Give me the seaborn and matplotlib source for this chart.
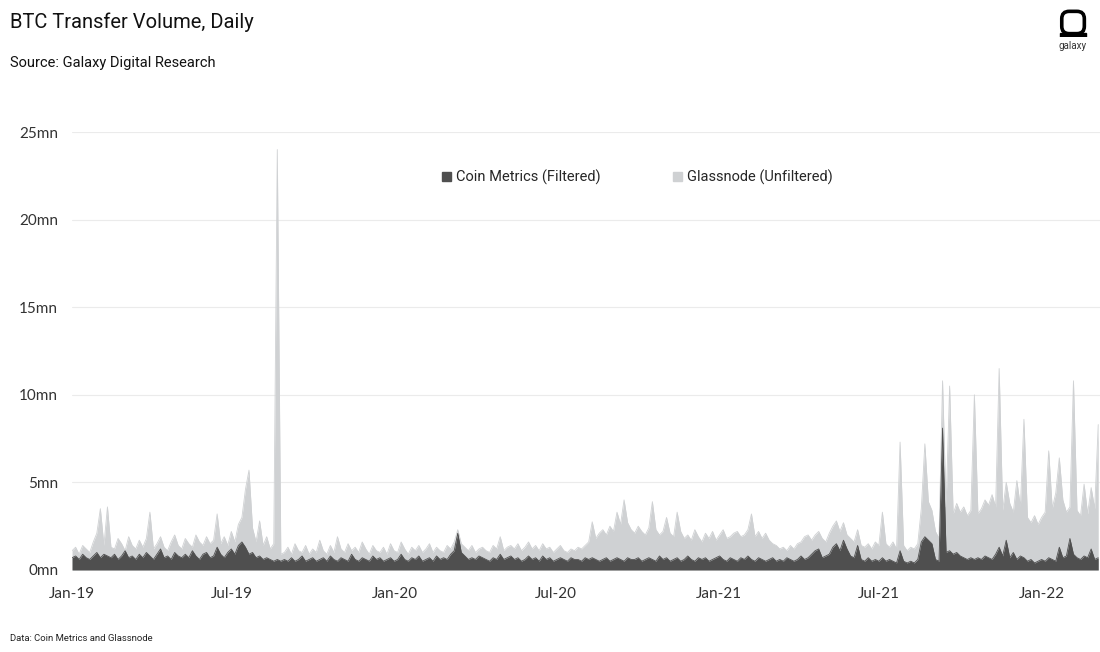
import matplotlib
matplotlib.use("Agg")
import matplotlib.pyplot as plt
import matplotlib.dates as mdates
from matplotlib.patches import Patch, FancyBboxPatch, Rectangle
import seaborn as sns
import pandas as pd

# 4-day sampling of daily transfer volume (mn BTC)
start_date = "2019-01-01"
step = "4D"

glassnode = [
    1.1, 1.3, 0.9, 1.4, 1.2, 1.0, 1.6, 2.1, 3.5, 1.4,
    3.6, 1.3, 1.2, 1.8, 1.5, 1.1, 1.9, 1.4, 1.2, 1.7,
    1.3, 1.8, 3.3, 1.2, 1.5, 1.9, 1.3, 1.1, 1.6, 2.0,
    1.4, 1.2, 1.8, 1.5, 1.3, 2.0, 1.6, 1.4, 1.9, 1.5,
    1.7, 3.2, 1.5, 1.9, 1.4, 2.2, 1.6, 2.6, 3.0, 4.6,
    5.7, 2.4, 1.6, 2.8, 1.4, 1.9, 1.2, 1.5, 24.0, 0.9,
    1.0, 1.3, 0.9, 1.5, 1.1, 1.0, 1.4, 0.9, 1.2, 1.0,
    1.7, 1.1, 0.9, 1.4, 1.0, 1.9, 1.2, 1.0, 1.5, 1.1,
    1.3, 1.0, 1.6, 1.2, 0.9, 1.4, 1.1, 1.0, 1.3, 0.9,
    1.5, 1.1, 1.0, 1.6, 1.2, 0.9, 1.3, 1.1, 1.4, 1.0,
    1.2, 1.5, 1.0, 1.3, 1.1, 1.0, 1.4, 1.2, 1.6, 2.3,
    1.5, 1.3, 1.1, 1.4, 1.0, 1.2, 1.3, 1.1, 1.0, 1.4,
    1.2, 1.9, 1.1, 1.3, 1.4, 1.2, 1.5, 1.1, 1.3, 1.6,
    1.2, 1.4, 1.1, 1.5, 1.2, 1.3, 1.0, 1.2, 1.4, 1.1,
    1.0, 1.2, 1.1, 1.3, 1.2, 1.4, 1.6, 2.75, 1.8, 2.1,
    2.3, 2.0, 2.5, 2.2, 3.3, 2.6, 4.0, 2.7, 2.3, 2.1,
    2.5, 2.2, 2.0, 2.4, 3.9, 2.3, 2.0, 2.2, 3.0, 2.1,
    1.9, 3.3, 2.2, 1.8, 2.0, 1.7, 2.3, 1.9, 1.6, 2.1,
    1.8, 2.2, 1.7, 2.0, 2.3, 1.8, 1.9, 2.1, 2.2, 1.9,
    2.0, 2.3, 3.2, 1.9, 2.2, 1.8, 2.1, 1.7, 1.5, 1.4,
    1.2, 1.3, 1.1, 1.4, 1.2, 1.5, 1.6, 1.9, 2.0, 1.7,
    2.0, 2.2, 1.8, 1.6, 2.1, 2.5, 2.8, 2.2, 2.7, 2.0,
    1.8, 1.6, 2.3, 1.4, 1.3, 1.5, 1.2, 1.6, 1.4, 3.3,
    1.5, 1.3, 1.6, 1.2, 7.3, 1.4, 1.1, 1.3, 1.2, 1.5,
    3.5, 7.2, 3.9, 3.4, 2.2, 1.8, 10.8, 3.6, 10.5, 3.2,
    3.8, 3.3, 3.6, 3.1, 3.4, 10.0, 3.2, 3.5, 4.0, 3.7,
    4.3, 3.6, 11.5, 3.4, 5.0, 3.8, 3.3, 5.1, 3.6, 8.6,
    3.0, 2.7, 3.1, 2.6, 3.0, 3.3, 6.8, 3.5, 4.4, 6.4,
    4.0, 3.3, 3.6, 10.8, 3.4, 3.1, 4.9, 3.2, 4.7, 3.5,
    8.3,
]

coin_metrics = [
    0.7, 0.8, 0.6, 0.9, 0.7, 0.6, 0.8, 1.0, 0.7, 0.9,
    0.8, 0.7, 0.9, 0.6, 0.8, 1.1, 0.7, 0.8, 0.6, 0.9,
    0.7, 1.0, 0.8, 0.6, 0.9, 1.2, 0.7, 0.8, 0.6, 1.0,
    0.8, 0.7, 0.9, 0.7, 1.1, 0.8, 0.6, 0.9, 1.0, 0.7,
    0.8, 1.3, 0.9, 0.7, 1.0, 1.2, 0.9, 1.4, 1.6, 1.3,
    0.9, 1.0, 0.7, 0.8, 0.6, 0.7, 0.6, 0.5, 0.6, 0.5,
    0.6, 0.5, 0.7, 0.5, 0.6, 0.8, 0.5, 0.6, 0.7, 0.5,
    0.6, 0.7, 0.5, 0.8, 0.6, 0.5, 0.7, 0.6, 0.5, 0.9,
    0.6, 0.5, 0.7, 0.6, 0.5, 0.8, 0.6, 0.7, 0.5, 0.6,
    0.7, 0.5, 0.6, 0.9, 0.6, 0.5, 0.7, 0.6, 0.8, 0.5,
    0.6, 0.7, 0.5, 0.8, 0.6, 0.7, 0.6, 0.9, 1.1, 2.1,
    1.0, 0.8, 0.6, 0.7, 0.6, 0.8, 0.7, 0.6, 0.5, 0.7,
    0.6, 0.9, 0.6, 0.7, 0.8, 0.6, 0.7, 0.5, 0.6, 0.8,
    0.6, 0.7, 0.5, 0.8, 0.6, 0.7, 0.5, 0.6, 0.7, 0.6,
    0.5, 0.7, 0.6, 0.6, 0.5, 0.7, 0.6, 0.7, 0.6, 0.5,
    0.6, 0.7, 0.5, 0.6, 0.7, 0.6, 0.5, 0.7, 0.6, 0.6,
    0.7, 0.5, 0.6, 0.7, 0.6, 0.5, 0.8, 0.6, 0.7, 0.5,
    0.6, 0.7, 0.5, 0.6, 0.8, 0.6, 0.5, 0.7, 0.6, 0.7,
    0.5, 0.6, 0.7, 0.8, 0.6, 0.5, 0.7, 0.6, 0.5, 0.7,
    0.6, 0.8, 0.6, 0.5, 0.7, 0.6, 0.5, 0.6, 0.7, 0.5,
    0.6, 0.5, 0.7, 0.6, 0.5, 0.6, 0.8, 0.6, 0.7, 0.9,
    1.1, 1.2, 0.7, 0.8, 0.9, 1.3, 1.5, 1.1, 1.7, 1.2,
    0.8, 0.7, 1.4, 0.6, 0.5, 0.7, 0.5, 0.6, 0.5, 0.7,
    0.5, 0.6, 0.5, 0.4, 1.1, 0.5, 0.4, 0.5, 0.4, 0.6,
    1.6, 1.9, 1.7, 1.5, 0.6, 0.5, 8.1, 1.0, 1.1, 0.9,
    1.0, 0.8, 0.7, 0.6, 0.7, 0.6, 0.7, 0.6, 0.8, 0.7,
    0.6, 0.9, 1.3, 0.8, 1.7, 0.7, 1.0, 0.6, 0.8, 0.7,
    0.5, 0.6, 0.4, 0.5, 0.6, 0.5, 0.7, 0.6, 0.5, 1.3,
    0.7, 0.8, 1.8, 0.9, 0.7, 0.6, 0.8, 0.7, 1.2, 0.6,
    0.7,
]

y_ticks = [0, 5, 10, 15, 20, 25]
x_ticks = ["2019-01-01", "2019-07-01", "2020-01-01", "2020-07-01",
           "2021-01-01", "2021-07-01", "2022-01-01"]

dark = "#4f4f4f"
light = "#cfd1d3"

df = pd.DataFrame({
    "date": pd.date_range(start_date, periods=len(glassnode), freq=step),
    "glassnode": glassnode,
    "coin_metrics": coin_metrics,
})

sns.set_style("white")
plt.rcParams["font.family"] = ["Lato", "DejaVu Sans"]
head_font = ["Roboto", "DejaVu Sans"]

fig = plt.figure(figsize=(11, 6.52), dpi=100)
ax = fig.add_axes([0.0655, 0.1258, 0.9345, 0.6717])

sns.lineplot(data=df, x="date", y="glassnode", color=light, lw=0.6, ax=ax)
ax.fill_between(df["date"], df["glassnode"], color=light, lw=0)
sns.lineplot(data=df, x="date", y="coin_metrics", color=dark, lw=0.6, ax=ax)
ax.fill_between(df["date"], df["coin_metrics"], color=dark, lw=0)

ax.set_xlim(pd.Timestamp("2019-01-01"), pd.Timestamp("2022-03-08"))
ax.set_ylim(0, 25)
ax.set_yticks(y_ticks)
ax.set_yticklabels([f"{v}mn" for v in y_ticks])
ax.set_xticks([pd.Timestamp(d) for d in x_ticks])
ax.xaxis.set_major_formatter(mdates.DateFormatter("%b-%y"))
ax.tick_params(axis="both", length=0, labelsize=11, labelcolor="#333333")
ax.tick_params(axis="y", pad=10)
ax.tick_params(axis="x", pad=12)
ax.set_xlabel("")
ax.set_ylabel("")
ax.grid(axis="y", color="#ebebeb", lw=0.8)
ax.set_axisbelow(True)
sns.despine(ax=ax, left=True, bottom=True)

handles = [Patch(color=dark, label="Coin Metrics (Filtered)"),
           Patch(color=light, label="Glassnode (Unfiltered)")]
ax.legend(handles=handles, ncol=2, frameon=False, loc="center",
          bbox_to_anchor=(0.55, 0.897), handlelength=0.6,
          handleheight=0.6, handletextpad=0.35, columnspacing=5.0,
          prop={"family": head_font, "size": 10.5})

fig.text(0.009, 0.966, "BTC Transfer Volume, Daily", fontsize=14.5,
         family=head_font, va="center", color="#111111")
fig.text(0.009, 0.903, "Source: Galaxy Digital Research", fontsize=10.5,
         family=head_font, va="center", color="#111111")
fig.text(0.009, 0.021, "Data: Coin Metrics and Glassnode", fontsize=6.8,
         family=head_font, va="center", color="#222222")

# galaxy logo
logo = fig.add_axes([0.962, 0.943, 0.027, 0.045])
logo.set_xlim(0, 1)
logo.set_ylim(0, 1)
logo.axis("off")
logo.add_patch(FancyBboxPatch((0.12, 0.12), 0.76, 0.76,
                              boxstyle="round,pad=0,rounding_size=0.25",
                              fill=False, ec="black", lw=2.6))
logo.add_patch(Rectangle((0.05, 0.0), 0.9, 0.14, color="black"))
fig.text(0.975, 0.929, "galaxy", fontsize=7, ha="center", va="center",
         family=head_font, color="#333333")

fig.savefig("out.png", dpi=100)
